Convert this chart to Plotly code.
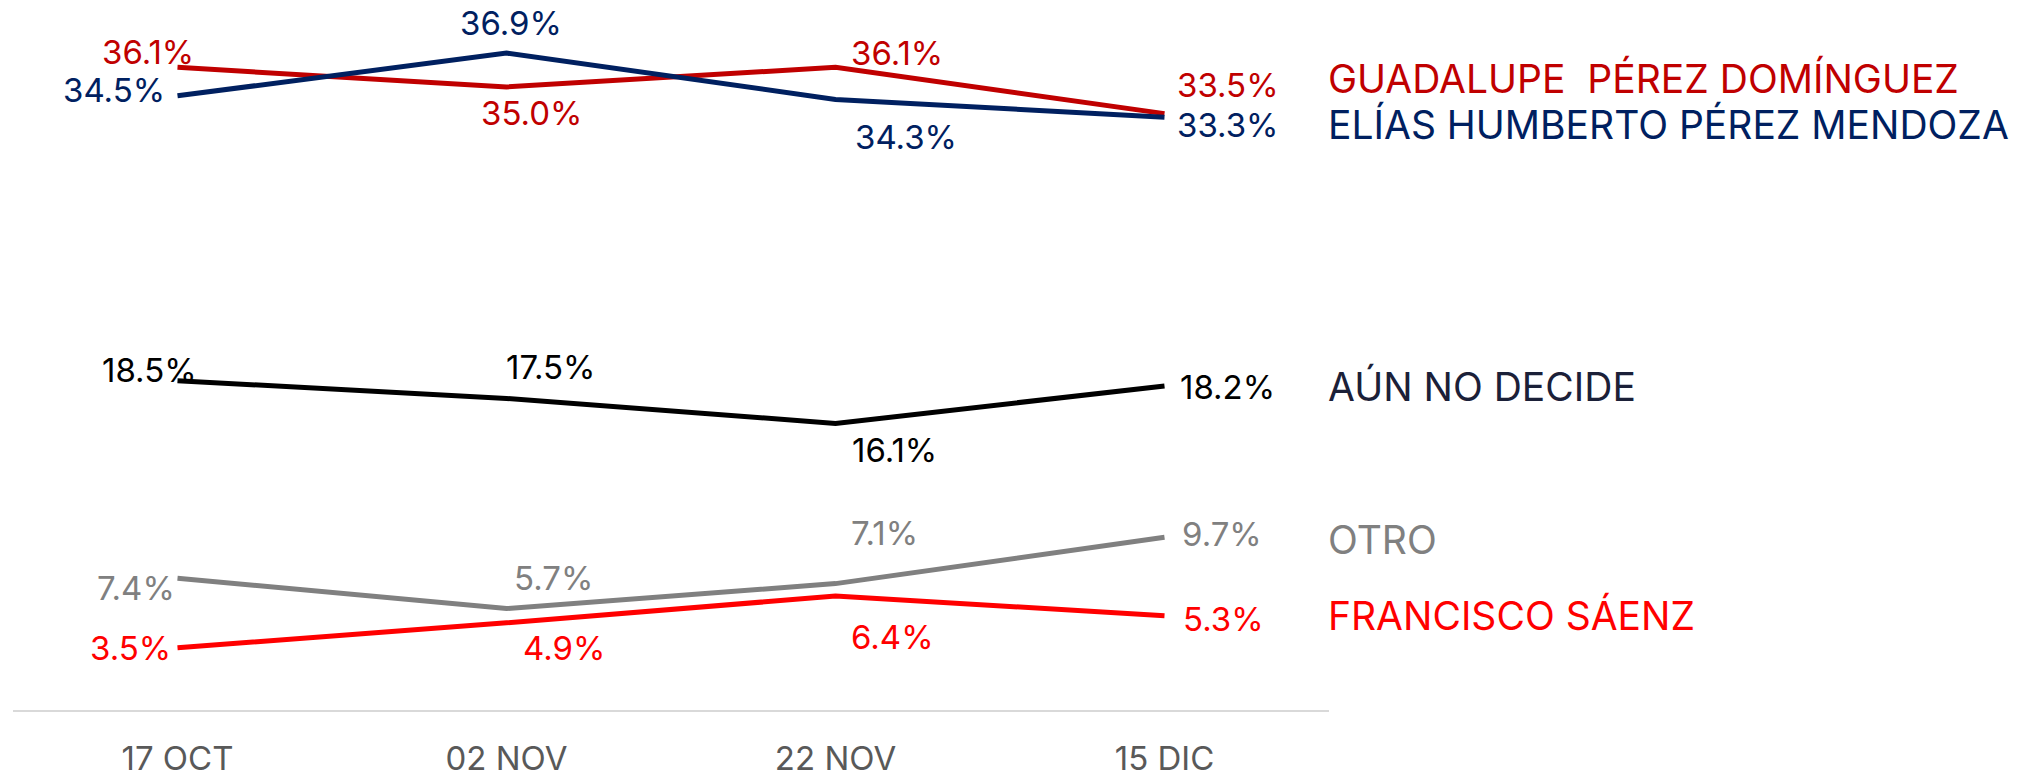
import plotly.graph_objects as go

dates = ["17 OCT", "02 NOV", "22 NOV", "15 DIC"]
names = ["GUADALUPE  PÉREZ DOMÍNGUEZ", "ELÍAS HUMBERTO PÉREZ MENDOZA", "AÚN NO DECIDE", "OTRO", "FRANCISCO SÁENZ"]
guadalupe = [36.1, 35.0, 36.1, 33.5]
elias = [34.5, 36.9, 34.3, 33.3]
aun_no_decide = [18.5, 17.5, 16.1, 18.2]
otro = [7.4, 5.7, 7.1, 9.7]
francisco = [3.5, 4.9, 6.4, 5.3]

series = [guadalupe, elias, aun_no_decide, otro, francisco]
line_colors = ["#C00000", "#002060", "#000000", "#808080", "#FF0000"]
label_colors = ["#C00000", "#002060", "#000000", "#808080", "#FF0000"]
name_colors = ["#C00000", "#002060", "#1B2038", "#808080", "#FF0000"]
line_widths = [5, 5, 5, 5, 5]

# value-label offsets (px) per series per point: (xshift, yshift)
label_offsets = [
    [(-30, 15), (25, -26), (61, 14), (63, 29)],
    [(-64, 6), (4, 30), (70, -38), (63, -8)],
    [(-28, 11), (44, 31), (59, -27), (63, -1)],
    [(-42, -10), (47, 31), (49, 51), (57, 3)],
    [(-47, 0), (57, -25), (57, -41), (59, -3)],
]
name_yshift = [35, -7, 0, -2, 0]

FONT = "Inter"

fig = go.Figure()
for vals, col, w in zip(series, line_colors, line_widths):
    fig.add_trace(go.Scatter(x=dates, y=vals, mode="lines",
                             line=dict(color=col, width=w),
                             showlegend=False, hoverinfo="skip"))

annotations = []
for vals, col, offs in zip(series, label_colors, label_offsets):
    for d, v, (dx, dy) in zip(dates, vals, offs):
        annotations.append(dict(x=d, y=v, xref="x", yref="y", text=f"{v:.1f}%",
                                showarrow=False, xanchor="center", yanchor="middle",
                                xshift=dx, yshift=dy,
                                font=dict(family=FONT, size=33, color=col)))
for nm, vals, col, dy in zip(names, series, name_colors, name_yshift):
    annotations.append(dict(x=dates[-1], y=vals[-1], xref="x", yref="y", text=nm,
                            showarrow=False, xanchor="left", yanchor="middle",
                            xshift=161, yshift=dy,
                            font=dict(family=FONT, size=39, color=col)))

fig.update_layout(
    width=2034, height=777,
    margin=dict(l=13, r=705, t=20, b=67),
    paper_bgcolor="white", plot_bgcolor="white",
    annotations=annotations,
    xaxis=dict(type="category", range=[-0.5, 3.5], showgrid=False, zeroline=False,
               showline=True, linecolor="#D9D9D9", linewidth=2,
               tickfont=dict(family=FONT, size=33, color="#595959"),
               ticks="", ticklabelstandoff=18, automargin=False, fixedrange=True),
    yaxis=dict(range=[0, 38.76], visible=False, showgrid=False, zeroline=False,
               fixedrange=True),
    font=dict(family=FONT),
)

fig.write_html("out.html", config={"displayModeBar": False},
               post_script="document.body.style.margin='0';document.body.style.overflow='hidden';")
